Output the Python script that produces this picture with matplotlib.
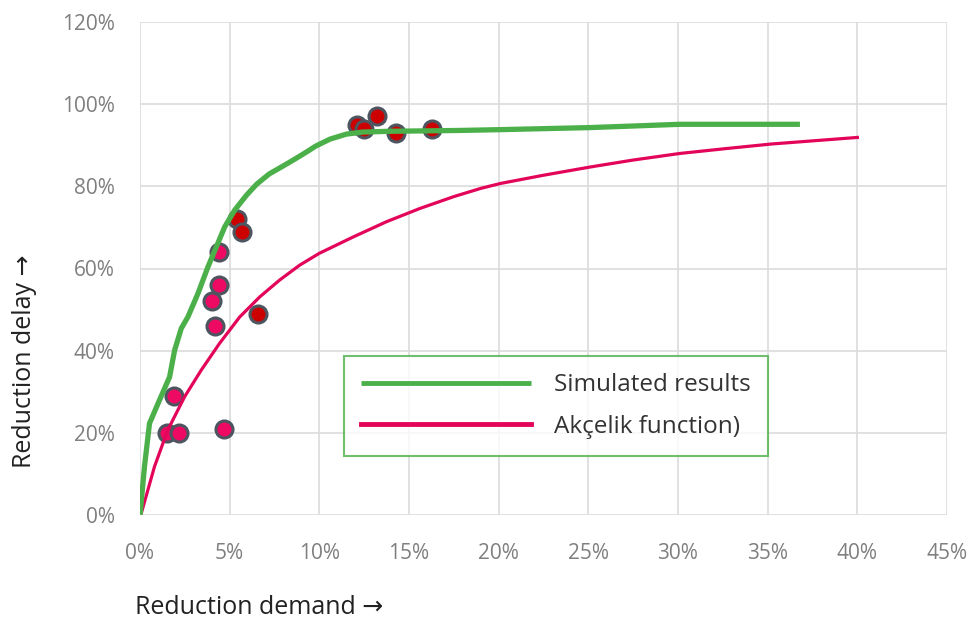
import matplotlib
matplotlib.use("Agg")
import matplotlib.pyplot as plt
from matplotlib.ticker import FuncFormatter, MultipleLocator

plt.rcParams['font.family'] = ['Open Sans', 'DejaVu Sans']

# Simulated results (green curve), values in %
sim_x = [0, 0.25, 0.53, 1.09, 1.65, 1.93, 2.3, 2.67, 3.23, 3.79, 4.26, 4.72, 5.28,
         5.93, 6.5, 7.2, 8.0, 8.7, 9.3, 9.8, 10.6, 11.5, 12.4, 13.9, 17.8, 20.1,
         25.1, 30.1, 36.8]
sim_y = [0, 11.8, 22.3, 28.0, 33.6, 40.1, 45.4, 48.2, 53.9, 60.4, 65.3, 70.1, 74.2,
         77.8, 80.5, 83.0, 85.0, 86.8, 88.4, 89.8, 91.5, 92.7, 93.2, 93.4, 93.6, 93.8,
         94.3, 95.1, 95.1]

# Akçelik function (pink curve), values in %
ak_x = [0, 0.07, 0.81, 1.55, 2.49, 3.42, 4.44, 5.56, 6.68, 7.79, 8.9, 10.0, 11.9,
        13.75, 15.6, 17.5, 19.0, 20.1, 22.5, 25.1, 27.5, 30.1, 32.7, 35.2, 37.6, 40.0]
ak_y = [0, 0.4, 11.8, 20.7, 28.8, 35.3, 41.8, 48.2, 53.1, 57.2, 60.8, 63.7, 67.7,
        71.4, 74.6, 77.5, 79.5, 80.7, 82.7, 84.7, 86.4, 88.0, 89.2, 90.3, 91.1, 91.9]

# Observed points
pink_x = [1.5, 2.2, 1.9, 4.7, 4.2, 4.0, 4.4, 4.4]
pink_y = [20.0, 20.0, 29.0, 21.0, 46.0, 52.0, 56.0, 64.0]
red_x = [5.4, 5.7, 6.6, 12.1, 12.5, 13.2, 14.3, 16.3]
red_y = [72.0, 69.0, 49.0, 95.0, 94.0, 97.0, 93.0, 94.0]

fig = plt.figure(figsize=(9.74, 6.21), dpi=100)
ax = fig.add_axes([140/974, 1 - 515/621, (947-140)/974, (515-22)/621])

ax.scatter(pink_x, pink_y, s=150, c='#ee0a62', edgecolors='#4d5660', linewidths=2.2, zorder=2)
ax.scatter(red_x, red_y, s=150, c='#cc0000', edgecolors='#4d5660', linewidths=2.2, zorder=2)
ax.plot(ak_x, ak_y, color='#e3055a', lw=2.3, zorder=3, label='Akçelik function)',
        solid_joinstyle='round')
ax.plot(sim_x, sim_y, color='#4cb04a', lw=3.8, zorder=4, label='Simulated results',
        solid_joinstyle='round', solid_capstyle='butt')

ax.set_xlim(0, 45)
ax.set_ylim(0, 120)
ax.xaxis.set_major_locator(MultipleLocator(5))
ax.yaxis.set_major_locator(MultipleLocator(20))
ax.xaxis.set_major_formatter(FuncFormatter(lambda v, p: f"{v:.0f}%"))
ax.yaxis.set_major_formatter(FuncFormatter(lambda v, p: f"{v:.0f}%"))
ax.grid(True, color='#dcdcdc', lw=1.2)
ax.set_axisbelow(True)
for s in ax.spines.values():
    s.set_visible(False)
ax.tick_params(length=0, labelsize=15, colors='#7f7f7f')
ax.tick_params(axis='x', pad=20)
ax.tick_params(axis='y', pad=18)

handles, labels = ax.get_legend_handles_labels()
leg = ax.legend(handles[::-1], labels[::-1], loc='upper left',
                bbox_to_anchor=((344-140)/807, 1 - (356-22)/493),
                fontsize=17.5, frameon=True, fancybox=False, handlelength=7.0,
                handletextpad=0.95, borderpad=0.7, labelspacing=0.72, borderaxespad=0)
leg.get_frame().set_edgecolor('#4cb04a')
leg.get_frame().set_linewidth(1.5)
for t in leg.get_texts():
    t.set_color('#333333')
for ln in leg.get_lines():
    ln.set_linewidth(3.5)

fig.text(135/974, 1 - 607/621, 'Reduction demand →', fontsize=18, color='#222222',
         ha='left', va='center')
fig.text(25/974, 1 - 361/621, 'Reduction delay →', fontsize=18, color='#222222',
         ha='center', va='center', rotation=90)

fig.savefig('out.png', dpi=100)
